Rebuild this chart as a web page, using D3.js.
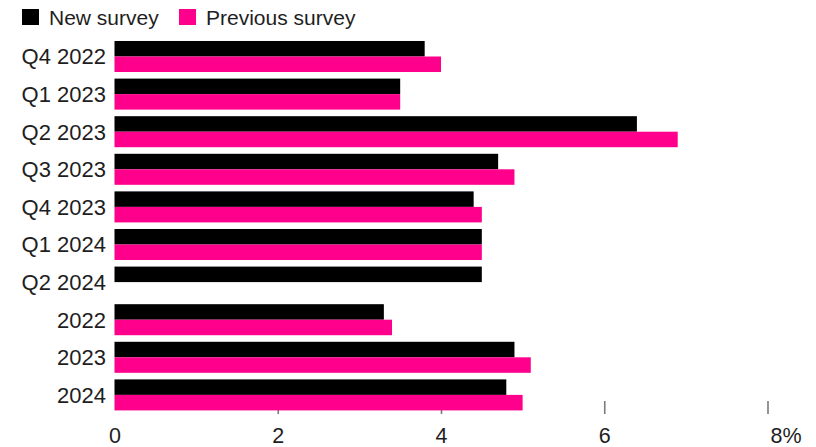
<!DOCTYPE html>
<html>
<head>
<meta charset="utf-8">
<script src="https://cdn.jsdelivr.net/npm/d3@7"></script>
<style>
  html, body { margin: 0; padding: 0; background: #fff; }
  svg { display: block; font-family: "Liberation Sans", Arial, sans-serif; }
</style>
</head>
<body>
<svg id="chart" width="816" height="447"></svg>
<script>
// Survey forecasts, percent
const periods = ["Q4 2022", "Q1 2023", "Q2 2023", "Q3 2023", "Q4 2023", "Q1 2024", "Q2 2024", "2022", "2023", "2024"];
const newSurvey = [3.8, 3.5, 6.4, 4.7, 4.4, 4.5, 4.5, 3.3, 4.9, 4.8];
const previousSurvey = [4.0, 3.5, 6.9, 4.9, 4.5, 4.5, null, 3.4, 5.1, 5.0];
const seriesNames = ["New survey", "Previous survey"];
const seriesColors = ["#000000", "#ff008c"];
const xTicks = [0, 2, 4, 6, 8];

const svg = d3.select("#chart");
const textColor = "#1e1e1e";

const x = d3.scaleLinear().domain([0, 8]).range([114.5, 767.5]);
const y = d3.scaleBand().domain(periods).range([37.7, 413.7]).paddingInner(0.175).paddingOuter(0.0875);
const ySub = d3.scaleBand().domain([0, 1]).range([0, y.bandwidth()]);

// Legend
const legend = svg.append("g");
const legendX = [22, 179];
seriesNames.forEach((name, i) => {
  legend.append("rect")
    .attr("x", legendX[i]).attr("y", 9)
    .attr("width", 17).attr("height", 16)
    .attr("fill", seriesColors[i]);
  legend.append("text")
    .attr("x", legendX[i] + 27).attr("y", 25)
    .attr("font-size", 21).attr("fill", textColor)
    .text(name);
});

// Bottom axis (tick marks sit behind the bars)
const axis = d3.axisBottom(x)
  .tickValues(xTicks)
  .tickSize(13)
  .tickFormat(d => d === 8 ? d + "%" : d);
const axisG = svg.append("g").attr("transform", "translate(0,401)").call(axis);
axisG.select(".domain").remove();
axisG.selectAll(".tick line")
  .attr("stroke", "#7a7a7a").attr("stroke-width", 1.6)
  .attr("display", d => d === 0 ? "none" : null);
axisG.selectAll(".tick text")
  .attr("y", 41.5).attr("dy", 0)
  .attr("font-size", 21.5).attr("font-family", "Liberation Sans, Arial, sans-serif")
  .attr("fill", textColor)
  .attr("text-anchor", d => d === 8 ? "start" : "middle")
  .attr("x", d => d === 8 ? 2.5 : 0);

// Bars
const rows = svg.append("g").selectAll("g")
  .data(periods)
  .join("g")
  .attr("transform", d => `translate(0,${y(d)})`);

[newSurvey, previousSurvey].forEach((vals, s) => {
  rows.filter((d, i) => vals[i] != null)
    .append("rect")
    .attr("x", x(0))
    .attr("y", ySub(s))
    .attr("height", ySub.bandwidth())
    .attr("width", d => x(vals[periods.indexOf(d)]) - x(0))
    .attr("fill", seriesColors[s]);
});

// Category labels
rows.append("text")
  .attr("x", 106)
  .attr("y", y.bandwidth() / 2)
  .attr("dy", "0.36em")
  .attr("text-anchor", "end")
  .attr("font-size", 22)
  .attr("fill", textColor)
  .text(d => d);
</script>
</body>
</html>
